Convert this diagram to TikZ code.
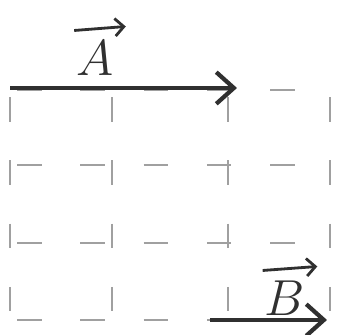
\documentclass[tikz,border=0pt]{standalone}
\usepackage{amsmath}
\usepackage{xcolor}
\usetikzlibrary{calc}
\usetikzlibrary{arrows.meta}
\definecolor{gridgray}{HTML}{A0A0A0}
\definecolor{inkgray}{HTML}{303030}
\tikzset{
  gridline/.style={gridgray, line width=0.7pt, dash pattern=on 7pt off 11pt, dash phase=-2pt},
  vecline/.style={inkgray, line width=1.2pt, ->, >={Straight Barb[length=5pt, width=9pt]}},
  accent/.style={inkgray, line width=0.8pt, ->, >={Straight Barb[length=2.5pt, width=5pt]}},
  veclabel/.style={inkgray, font=\Large, inner sep=1pt}
}
\begin{document}
\begin{tikzpicture}
  \useasboundingbox (0,0) rectangle (3.45,3.35);
  \draw[gridline] (0.10,2.45) -- (3.30,2.45);
  \draw[gridline] (0.10,1.70) -- (3.30,1.70);
  \draw[gridline] (0.10,0.92) -- (3.30,0.92);
  \draw[gridline] (0.10,0.15) -- (3.30,0.15);
  \draw[gridline] (0.10,2.45) -- (0.10,0.15);
  \draw[gridline] (1.12,2.45) -- (1.12,0.15);
  \draw[gridline] (2.28,2.45) -- (2.28,0.15);
  \draw[gridline] (3.30,2.45) -- (3.30,0.15);
  \coordinate (atail) at (0.10,2.47);
  \coordinate (ahead) at (2.37,2.47);
  \coordinate (btail) at (2.10,0.15);
  \coordinate (bhead) at (3.27,0.15);
  \draw[vecline] (atail) -- (ahead);
  \draw[vecline] (btail) -- (bhead);
  \node[veclabel] (alabel) at (0.95,2.77) {$A$};
  \node[veclabel] (blabel) at (2.85,0.37) {$B$};
  % arrows over the letters
  \draw[accent] ($(alabel.north west)+(0.02,0.06)$) -- ($(alabel.north east)+(0.08,0.10)$);
  \draw[accent] ($(blabel.north west)+(0.02,0.06)$) -- ($(blabel.north east)+(0.08,0.10)$);
\end{tikzpicture}
\end{document}
